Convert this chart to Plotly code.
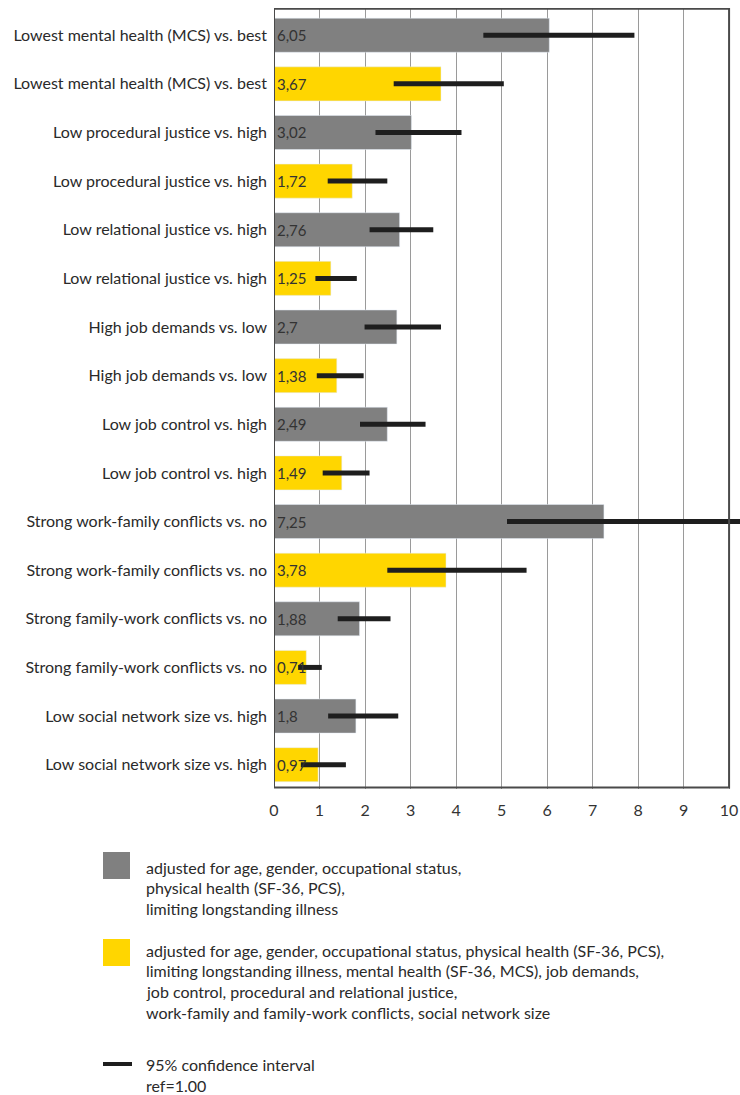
import plotly.graph_objects as go

# Odds ratios with 95% confidence intervals, two adjustment models per factor
categories = [
    "Lowest mental health (MCS) vs. best",
    "Low procedural justice vs. high",
    "Low relational justice vs. high",
    "High job demands vs. low",
    "Low job control vs. high",
    "Strong work-family conflicts vs. no",
    "Strong family-work conflicts vs. no",
    "Low social network size vs. high",
]
or_model1 = [6.05, 3.02, 2.76, 2.7, 2.49, 7.25, 1.88, 1.8]
ci_model1_low = [4.60, 2.23, 2.10, 1.99, 1.89, 5.12, 1.40, 1.19]
ci_model1_high = [7.92, 4.12, 3.50, 3.67, 3.33, 10.40, 2.56, 2.73]
or_model2 = [3.67, 1.72, 1.25, 1.38, 1.49, 3.78, 0.71, 0.97]
ci_model2_low = [2.63, 1.18, 0.91, 0.94, 1.07, 2.49, 0.53, 0.59]
ci_model2_high = [5.05, 2.49, 1.82, 1.97, 2.10, 5.55, 1.05, 1.58]
x_ticks = list(range(0, 11))

legend_model1 = [
    "adjusted for age, gender, occupational status,",
    "physical health (SF-36, PCS),",
    "limiting longstanding illness",
]
legend_model2 = [
    "adjusted for age, gender, occupational status, physical health (SF-36, PCS),",
    "limiting longstanding illness, mental health (SF-36, MCS), job demands,",
    "job control, procedural and relational justice,",
    "work-family and family-work conflicts, social network size",
]
legend_ci = ["95% confidence interval", "ref=1.00"]

GRAY = "#808080"
YELLOW = "#FFD600"
FONT = "Lato"
TEXT = "#2a2a2a"

W, H = 740, 1095
ML, MT, MB = 274, 8, 306
PW, PH = W - ML, H - MT - MB


def px(x):
    return (x - ML) / PW


def py(y):
    return (H - MB - y) / PH


n = len(categories)
pos1 = [2 * i for i in range(n)]
pos2 = [2 * i + 1 for i in range(n)]

fig = go.Figure()
fig.add_trace(go.Bar(x=or_model1, y=pos1, orientation="h", marker_color=GRAY,
                     width=0.7, showlegend=False, hoverinfo="x"))
fig.add_trace(go.Bar(x=or_model2, y=pos2, orientation="h", marker_color=YELLOW,
                     width=0.7, showlegend=False, hoverinfo="x"))

# confidence interval segments
cx, cy = [], []
for i in range(n):
    cx += [ci_model1_low[i], ci_model1_high[i], None, ci_model2_low[i], ci_model2_high[i], None]
    cy += [pos1[i], pos1[i], None, pos2[i], pos2[i], None]
fig.add_trace(go.Scatter(x=cx, y=cy, mode="lines", line=dict(color="#1e1e1e", width=5),
                         showlegend=False, hoverinfo="skip"))

# value labels at the bar base
annotations = []
for vals, ps in ((or_model1, pos1), (or_model2, pos2)):
    for v, p in zip(vals, ps):
        annotations.append(dict(x=0, y=p, xref="x", yref="y", text=f"{v:g}".replace(".", ","),
                                showarrow=False, xanchor="left", yanchor="middle", xshift=1,
                                font=dict(family=FONT, size=15, color="#333333")))

shapes = [
    # plot frame
    dict(type="rect", xref="x", yref="y", x0=0, x1=10, y0=-0.545, y1=15.47,
         line=dict(color="#4a4a4a", width=2), layer="above"),
]

# legend
def legend_lines(lines, y_first, step=20.7):
    for k, t in enumerate(lines):
        annotations.append(dict(x=px(144), y=py(y_first + k * step), xref="paper", yref="paper",
                                text=t, showarrow=False, xanchor="left", yanchor="middle",
                                font=dict(family=FONT, size=16, color=TEXT)))


shapes.append(dict(type="rect", xref="paper", yref="paper", x0=px(103), x1=px(130),
                   y0=py(879), y1=py(852), fillcolor=GRAY, line=dict(width=0)))
legend_lines(legend_model1, 867)
shapes.append(dict(type="rect", xref="paper", yref="paper", x0=px(103), x1=px(130),
                   y0=py(966), y1=py(939), fillcolor=YELLOW, line=dict(width=0)))
legend_lines(legend_model2, 950)
shapes.append(dict(type="line", xref="paper", yref="paper", x0=px(103), x1=px(132),
                   y0=py(1064), y1=py(1064), line=dict(color="#1e1e1e", width=4)))
legend_lines(legend_ci, 1064, 21)

fig.update_layout(
    width=W, height=H,
    margin=dict(l=ML, r=0, t=MT, b=MB, pad=0),
    paper_bgcolor="white", plot_bgcolor="white",
    font=dict(family=FONT, size=16, color=TEXT),
    barmode="overlay",
    xaxis=dict(range=[0, 10.24], tickvals=x_ticks, ticktext=[str(t) for t in x_ticks],
               showgrid=True, gridcolor="#9a9a9a", gridwidth=1, zeroline=False,
               showline=False, ticks="", ticklabelstandoff=10,
               tickfont=dict(family=FONT, size=16, color="#333333"), fixedrange=True),
    yaxis=dict(range=[15.5, -0.56], tickvals=pos1 + pos2,
               ticktext=categories + categories, showgrid=False, zeroline=False,
               showline=False, ticks="", ticklabelstandoff=6,
               tickfont=dict(family=FONT, size=16, color=TEXT), fixedrange=True),
    annotations=annotations,
    shapes=shapes,
)

fig.write_html("out.html")
